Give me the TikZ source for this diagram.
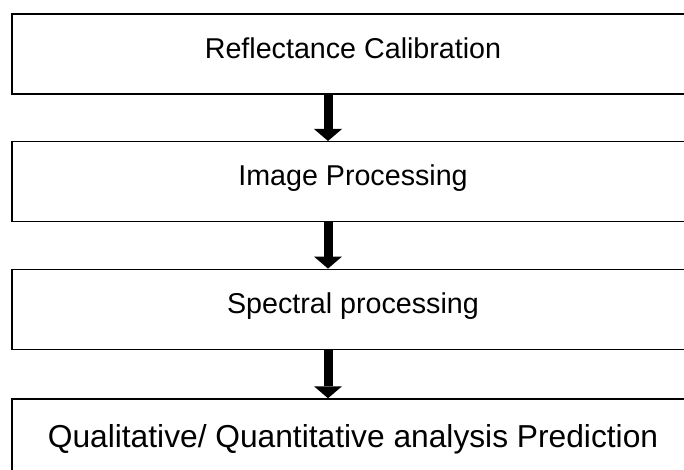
\documentclass[tikz,border=0pt]{standalone}
\usepackage{fontspec}
\setmainfont{Liberation Sans}
\usetikzlibrary{arrows.meta}

\tikzset{
  stagebox/.style={draw, line width=1.1pt, minimum width=511.5pt, minimum height=60pt,
    inner sep=0pt, font=\fontsize{21.5}{26}\selectfont, text height=0.78em, text depth=0.15em},
  flowarrow/.style={line width=6.75pt, -{Triangle[width=21pt,length=9pt,line width=0pt]}}
}

\begin{document}
\begin{tikzpicture}[x=0.75pt,y=0.75pt,yscale=-1,xscale=1]
\useasboundingbox (0,0) rectangle (684,469);
\clip (0,0) rectangle (684,469);

% stages
\node[stagebox] (calib) at (353,54) {Reflectance Calibration};
\node[stagebox] (imgproc) at (353,181.7) {Image Processing};
\node[stagebox] (specproc) at (353,309.3) {Spectral processing};
\node[stagebox, minimum height=66pt, font=\fontsize{23.8}{28}\selectfont] (predict) at (353,443) {Qualitative/ Quantitative analysis Prediction};

% arrows
\coordinate (arrowx) at (328,0);
\foreach \a/\b in {calib/imgproc, imgproc/specproc, specproc/predict}
  \draw[flowarrow] (\a.south -| arrowx) -- (\b.north -| arrowx);

\end{tikzpicture}
\end{document}
